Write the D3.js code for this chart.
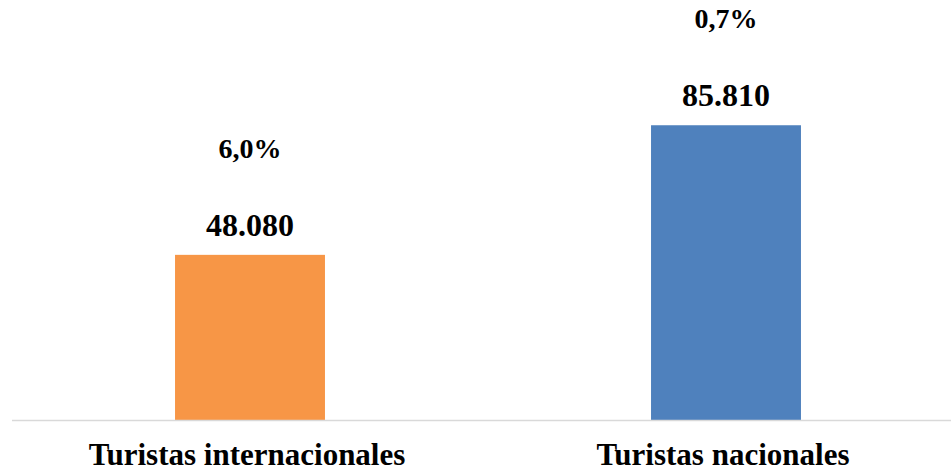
<!DOCTYPE html>
<html>
<head>
<meta charset="utf-8">
<script src="https://cdn.jsdelivr.net/npm/d3@7"></script>
<style>
  body { margin: 0; background: #fff; }
  svg text { font-family: "Liberation Serif", "Times New Roman", serif; font-weight: bold; fill: #000; }
</style>
</head>
<body>
<div id="chart"></div>
<script>
// data
var categories = ['Turistas internacionales', 'Turistas nacionales'];
var values = [48080, 85810];
var valueLabels = ['48.080', '85.810'];
var changeLabels = ['6,0%', '0,7%'];
var colors = ['#f79646', '#4f81bd'];

var width = 951;
var height = 473;
var baseY = 420;

var svg = d3.select('#chart').append('svg')
	.attr('width', width)
	.attr('height', height);

// scales
var x = d3.scaleBand()
	.domain(categories)
	.range([12, 964])
	.paddingInner(0.685)
	.paddingOuter(0.3425);

var y = d3.scaleLinear()
	.domain([0, 100000])
	.range([baseY, baseY - 343.5]);

// bars
svg.selectAll('rect.bar')
	.data(values)
	.enter().append('rect')
	.attr('class', 'bar')
	.attr('x', function(d, i) { return x(categories[i]); })
	.attr('y', function(d) { return y(d); })
	.attr('width', x.bandwidth())
	.attr('height', function(d) { return y(0) - y(d); })
	.attr('fill', function(d, i) { return colors[i]; });

// x axis line
svg.append('line')
	.attr('x1', 12)
	.attr('x2', width)
	.attr('y1', baseY + 0.5)
	.attr('y2', baseY + 0.5)
	.attr('stroke', '#d9d9d9')
	.attr('stroke-width', 1.5);

// value labels
svg.selectAll('text.value')
	.data(values)
	.enter().append('text')
	.attr('class', 'value')
	.attr('x', function(d, i) { return x(categories[i]) + x.bandwidth() / 2; })
	.attr('y', function(d) { return y(d) - 19; })
	.attr('text-anchor', 'middle')
	.style('font-size', '32px')
	.text(function(d, i) { return valueLabels[i]; });

// change labels
svg.selectAll('text.change')
	.data(values)
	.enter().append('text')
	.attr('class', 'change')
	.attr('x', function(d, i) { return x(categories[i]) + x.bandwidth() / 2; })
	.attr('y', function(d) { return y(d) - 97; })
	.attr('text-anchor', 'middle')
	.style('font-size', '28px')
	.text(function(d, i) { return changeLabels[i]; });

// category labels
svg.selectAll('text.cat')
	.data(categories)
	.enter().append('text')
	.attr('class', 'cat')
	.attr('x', function(d) { return x(d) + x.bandwidth() / 2 - 3; })
	.attr('y', 465)
	.attr('text-anchor', 'middle')
	.style('font-size', '31px')
	.text(function(d) { return d; });
</script>
</body>
</html>
